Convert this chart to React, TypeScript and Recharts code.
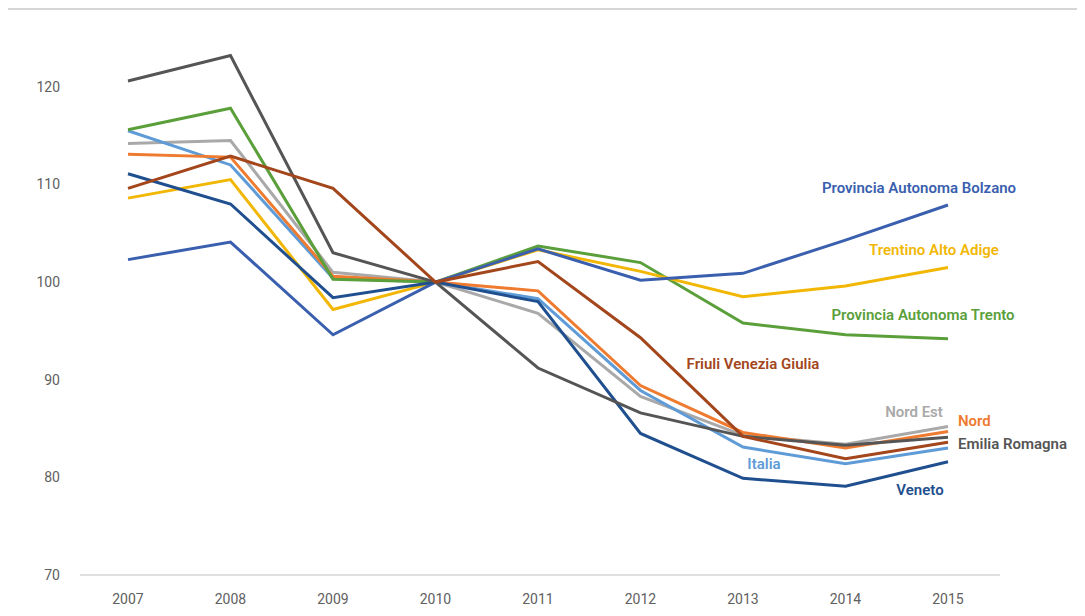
import React from 'react';
import { LineChart, Line, XAxis, YAxis } from 'recharts';

const years = ['2007', '2008', '2009', '2010', '2011', '2012', '2013', '2014', '2015'];
const yTicks = [70, 80, 90, 100, 110, 120];

const bolzano = [102.3, 104.1, 94.6, 100, 103.4, 100.2, 100.9, 104.3, 107.9];
const trentinoAltoAdige = [108.6, 110.5, 97.2, 100, 103.3, 101.1, 98.5, 99.6, 101.5];
const trento = [115.6, 117.8, 100.3, 100, 103.7, 102.0, 95.8, 94.6, 94.2];
const friuli = [109.6, 112.9, 109.6, 100, 102.1, 94.3, 84.2, 81.9, 83.6];
const nordEst = [114.2, 114.5, 101.0, 100, 96.8, 88.3, 84.3, 83.4, 85.2];
const nord = [113.1, 112.8, 100.6, 100, 99.1, 89.4, 84.6, 83.0, 84.7];
const emiliaRomagna = [120.6, 123.2, 103.0, 100, 91.2, 86.6, 84.2, 83.3, 84.1];
const italia = [115.5, 112.0, 100.4, 100, 98.3, 88.9, 83.1, 81.4, 83.0];
const veneto = [111.1, 108.0, 98.4, 100, 98.0, 84.5, 79.9, 79.1, 81.6];

const seriesNames = [
  'Nord Est',
  'Italia',
  'Nord',
  'Provincia Autonoma Trento',
  'Trentino Alto Adige',
  'Provincia Autonoma Bolzano',
  'Veneto',
  'Emilia Romagna',
  'Friuli Venezia Giulia',
];
const seriesValues = [nordEst, italia, nord, trento, trentinoAltoAdige, bolzano, veneto, emiliaRomagna, friuli];

// styling / label placement (not data)
const seriesStyle: Record<string, { color: string; labelIndex: number; dx: number; dy: number; anchor: 'start' | 'middle' | 'end' }> = {
  'Provincia Autonoma Bolzano': { color: '#3a5fae', labelIndex: 8, dx: -29, dy: -17, anchor: 'middle' },
  'Trentino Alto Adige': { color: '#f2b705', labelIndex: 8, dx: -14, dy: -17, anchor: 'middle' },
  'Provincia Autonoma Trento': { color: '#5b9f3b', labelIndex: 8, dx: -25, dy: -24, anchor: 'middle' },
  'Friuli Venezia Giulia': { color: '#a3461c', labelIndex: 6, dx: 10, dy: -72, anchor: 'middle' },
  'Nord Est': { color: '#a9a9a9', labelIndex: 8, dx: -34, dy: -15, anchor: 'middle' },
  'Nord': { color: '#ee7b30', labelIndex: 8, dx: 10, dy: -10, anchor: 'start' },
  'Emilia Romagna': { color: '#555555', labelIndex: 8, dx: 10, dy: 7, anchor: 'start' },
  'Italia': { color: '#5f9bd6', labelIndex: 6, dx: 21, dy: 17, anchor: 'middle' },
  'Veneto': { color: '#1f4f8e', labelIndex: 8, dx: -28, dy: 28, anchor: 'middle' },
};

const data = years.map((year, i) => {
  const row: Record<string, string | number> = { year };
  seriesNames.forEach((name, s) => {
    row[name] = seriesValues[s][i];
  });
  return row;
});

const makeLabel = (name: string) => (props: any) => {
  const st = seriesStyle[name];
  if (props.index !== st.labelIndex) return null;
  return (
    <text
      key={`lbl-${name}`}
      x={props.x + st.dx}
      y={props.y + st.dy}
      textAnchor={st.anchor}
      dominantBaseline="central"
      fill={st.color}
      fontFamily="Roboto, sans-serif"
      fontWeight={600}
      fontSize={15}
    >
      {name}
    </text>
  );
};

export default function App() {
  return (
    <div
      style={{
        marginLeft: -3,
        width: 1080,
        height: 608,
        borderTop: '2px solid #d6d6d6',
        borderLeft: '2px solid #d6d6d6',
        boxSizing: 'border-box',
        background: '#fff',
      }}
    >
      <LineChart
        width={1078}
        height={606}
        data={data}
        margin={{ top: 28, right: 85, bottom: 11, left: 13 }}
      >
        <XAxis
          dataKey="year"
          padding={{ left: 48, right: 52 }}
          axisLine={{ stroke: '#d4d4d4', strokeWidth: 1.5 }}
          tickLine={false}
          tickSize={0}
          tickMargin={19}
          height={30}
          tick={{ fill: '#606060', fontSize: 14, fontFamily: 'Roboto, sans-serif' }}
        />
        <YAxis
          domain={[70, 125]}
          ticks={yTicks}
          axisLine={false}
          tickLine={false}
          tickSize={0}
          tickMargin={20}
          width={60}
          tick={{ fill: '#606060', fontSize: 14, fontFamily: 'Roboto, sans-serif' }}
        />
        {seriesNames.map((name) => (
          <Line
            key={name}
            dataKey={name}
            stroke={seriesStyle[name].color}
            strokeWidth={3}
            dot={false}
            activeDot={false}
            isAnimationActive={false}
            label={makeLabel(name)}
          />
        ))}
      </LineChart>
    </div>
  );
}
